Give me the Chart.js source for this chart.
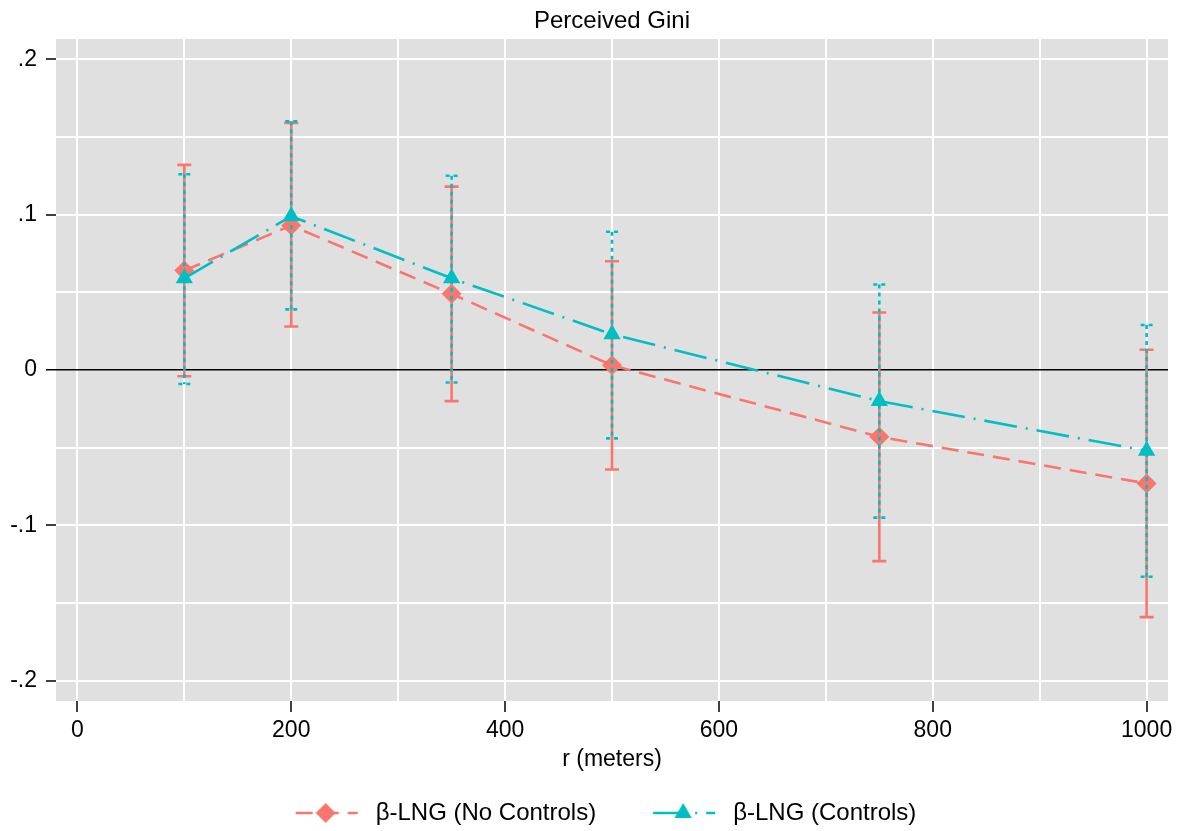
<!DOCTYPE html>
<html>
<head>
<meta charset="utf-8">
<title>Perceived Gini</title>
<script src="https://cdn.jsdelivr.net/npm/chart.js@4.4.1/dist/chart.umd.min.js"></script>
<style>
    body { margin: 0; background: #ffffff; }
    canvas { display: block; }
</style>
</head>
<body>
<canvas id="gini-chart" width="1183" height="831"></canvas>
<script>
// radius r (meters) of each neighbourhood
const radii = [100, 200, 350, 500, 750, 1000];

// beta-LNG estimates without controls, with 95% bounds
const noControls = [0.064, 0.093, 0.049, 0.003, -0.043, -0.073];
const noControlsLow = [-0.004, 0.028, -0.020, -0.064, -0.123, -0.159];
const noControlsHigh = [0.132, 0.159, 0.118, 0.070, 0.037, 0.013];

// beta-LNG estimates with controls
const withControls = [0.059, 0.099, 0.059, 0.023, -0.020, -0.052];
const withControlsLow = [-0.009, 0.039, -0.008, -0.044, -0.095, -0.133];
const withControlsHigh = [0.126, 0.160, 0.125, 0.089, 0.055, 0.029];

const seriesNames = ["\u03B2-LNG (No Controls)", "\u03B2-LNG (Controls)"];

const RED = "#f8766d";
const CYAN = "#00bfc4";
const RED_DASH = [17, 9];
const CYAN_DASH = [33, 9, 2, 9];

const KEY_BLANK = 43; // empty room left of each legend key, spaces the two entries
const KEY_WIDTH = 68;

Chart.defaults.font.family = "'Liberation Sans', Helvetica, Arial, sans-serif";
Chart.defaults.color = "#000000";

function toPoints(values) {
    return values.map((v, i) => ({x: radii[i], y: v}));
}

// small picture used as the legend key: dashed line with the marker in the middle
function legendKey(color, dash, marker) {
    let c = document.createElement("canvas");
    c.width = KEY_BLANK + KEY_WIDTH;
    c.height = 24;
    let g = c.getContext("2d");
    g.strokeStyle = color;
    g.lineWidth = 2.6;
    g.setLineDash(dash);
    g.beginPath();
    g.moveTo(KEY_BLANK, 12);
    g.lineTo(KEY_BLANK + 62, 12);
    g.stroke();
    let cx = KEY_BLANK + 30;
    g.fillStyle = color;
    g.beginPath();
    if (marker === "diamond") {
        g.moveTo(cx - 10, 12);
        g.lineTo(cx, 2);
        g.lineTo(cx + 10, 12);
        g.lineTo(cx, 22);
    } else {
        g.moveTo(cx, 2);
        g.lineTo(cx + 8.7, 17);
        g.lineTo(cx - 8.7, 17);
    }
    g.closePath();
    g.fill();
    return c;
}

// grey plot panel behind the grid
const panelBackground = {
    id: "panelBackground",
    beforeDraw(chart) {
        let a = chart.chartArea;
        chart.ctx.save();
        chart.ctx.fillStyle = "#e0e0e0";
        chart.ctx.fillRect(a.left, a.top, a.right - a.left, a.bottom - a.top);
        chart.ctx.restore();
    }
};

// capped confidence intervals, painted just before their own series
const errorBars = {
    id: "errorBars",
    beforeDatasetDraw(chart, args) {
        let ds = chart.data.datasets[args.index];
        if (!ds.errLow) return;
        let xs = chart.scales.x;
        let ys = chart.scales.y;
        let ctx = chart.ctx;
        ctx.save();
        ctx.strokeStyle = ds.borderColor;
        ctx.lineWidth = ds.errWidth;
        ctx.setLineDash(ds.errDash);
        ds.data.forEach((pt, i) => {
            let px = xs.getPixelForValue(pt.x);
            let top = ys.getPixelForValue(ds.errHigh[i]);
            let bot = ys.getPixelForValue(ds.errLow[i]);
            let cap = ds.errCap;
            ctx.beginPath();
            ctx.moveTo(px, top);
            ctx.lineTo(px, bot);
            ctx.moveTo(px - cap, top);
            ctx.lineTo(px + cap, top);
            ctx.moveTo(px - cap, bot);
            ctx.lineTo(px + cap, bot);
            ctx.stroke();
        });
        ctx.restore();
    }
};

function yLabel(v) {
    let hundredths = Math.round(v * 100);
    if (hundredths % 10 !== 0) return "";
    if (hundredths === 0) return "0";
    return String(hundredths / 100).replace("0.", ".");
}

new Chart(document.getElementById("gini-chart"), {
    type: "line",
    data: {
        datasets: [
            {
                label: seriesNames[0],
                data: toPoints(noControls),
                errLow: noControlsLow,
                errHigh: noControlsHigh,
                errDash: [],
                errWidth: 2.6,
                errCap: 7,
                borderColor: RED,
                backgroundColor: RED,
                borderWidth: 2.6,
                borderDash: RED_DASH,
                pointStyle: "rectRot",
                pointRadius: 10,
                pointBorderWidth: 0,
                pointHoverRadius: 10,
                order: 1
            },
            {
                label: seriesNames[1],
                data: toPoints(withControls),
                errLow: withControlsLow,
                errHigh: withControlsHigh,
                errDash: [4, 4],
                errWidth: 2.6,
                errCap: 6,
                borderColor: CYAN,
                backgroundColor: CYAN,
                borderWidth: 2.6,
                borderDash: CYAN_DASH,
                pointStyle: "triangle",
                pointRadius: 10,
                pointBorderWidth: 0,
                pointHoverRadius: 10,
                order: 0
            }
        ]
    },
    options: {
        responsive: false,
        animation: false,
        layout: {padding: {left: 1, right: 15, top: 0, bottom: -4}},
        plugins: {
            title: {
                display: true,
                fullSize: false, // centre the title over the plot panel
                text: "Perceived Gini",
                font: {size: 24, weight: "normal"},
                padding: {top: 6.6, bottom: 3.6}
            },
            legend: {
                position: "bottom",
                labels: {
                    font: {size: 24},
                    padding: 14,
                    usePointStyle: true,
                    pointStyleWidth: KEY_BLANK + KEY_WIDTH,
                    generateLabels() {
                        return [
                            {text: seriesNames[0], pointStyle: legendKey(RED, RED_DASH, "diamond"), datasetIndex: 0, fontColor: "#000", lineWidth: 0},
                            {text: seriesNames[1], pointStyle: legendKey(CYAN, CYAN_DASH, "triangle"), datasetIndex: 1, fontColor: "#000", lineWidth: 0}
                        ];
                    }
                }
            },
            tooltip: {enabled: false}
        },
        scales: {
            x: {
                type: "linear",
                min: -20,
                max: 1020,
                afterFit(scale) { scale.height = 86; },
                border: {display: false},
                grid: {
                    color: "#ffffff",
                    lineWidth: 2,
                    tickLength: 11,
                    tickWidth: 1.5,
                    tickColor: ctx => ctx.tick && ctx.tick.value % 200 === 0 ? "#000000" : "rgba(0,0,0,0)"
                },
                ticks: {
                    stepSize: 100,
                    includeBounds: false,
                    maxRotation: 0,
                    autoSkip: false,
                    padding: 5,
                    font: {size: 23},
                    callback: v => v % 200 === 0 ? String(v) : ""
                },
                title: {
                    display: true,
                    text: "r (meters)",
                    font: {size: 23},
                    padding: {top: 0, bottom: 14}
                }
            },
            y: {
                min: -0.213,
                max: 0.213,
                afterFit(scale) { scale.width = 55; },
                border: {display: false},
                grid: {
                    color: ctx => ctx.tick && ctx.tick.value === 0 ? "#000000" : "#ffffff",
                    lineWidth: ctx => ctx.tick && ctx.tick.value === 0 ? 1.5 : 2,
                    tickLength: 10,
                    tickWidth: 1.5,
                    tickColor: ctx => ctx.tick && Math.round(ctx.tick.value * 100) % 10 === 0 ? "#000000" : "rgba(0,0,0,0)"
                },
                ticks: {
                    stepSize: 0.05,
                    includeBounds: false,
                    autoSkip: false,
                    padding: 9,
                    font: {size: 23},
                    callback: v => yLabel(v)
                }
            }
        }
    },
    plugins: [panelBackground, errorBars]
});
</script>
</body>
</html>
